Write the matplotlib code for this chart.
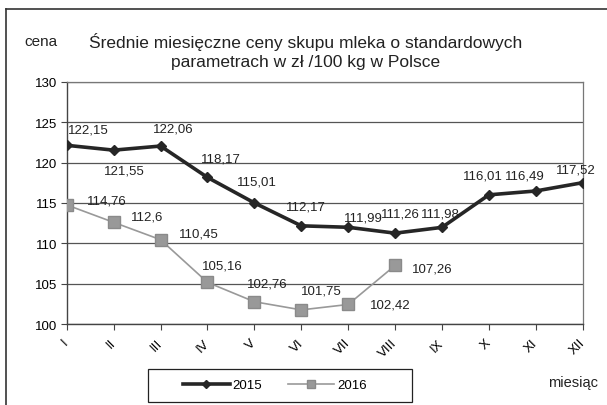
import matplotlib.pyplot as plt
from matplotlib.patches import Rectangle
from matplotlib.lines import Line2D

plt.rcParams['font.family'] = ['Liberation Sans', 'DejaVu Sans']

months = ['I', 'II', 'III', 'IV', 'V', 'VI', 'VII', 'VIII', 'IX', 'X', 'XI', 'XII']
prices_2015 = [122.15, 121.55, 122.06, 118.17, 115.01, 112.17, 111.99, 111.26, 111.98, 116.01, 116.49, 117.52]
prices_2016 = [114.76, 112.6, 110.45, 105.16, 102.76, 101.75, 102.42, 107.26]
yticks = [100, 105, 110, 115, 120, 125, 130]

# label offsets in pixels (dx, dy) relative to each point
off_2015 = [(22, 16), (11, -20), (13, 18), (13, 19), (3, 21), (5, 19),
            (15, 10), (5, 20), (-2, 14), (-6, 19), (-11, 15), (-7, 13)]
off_2016 = [(40, 4), (33, 6), (38, 6), (15, 17), (13, 18), (20, 19), (42, 0), (37, -3)]

W, H = 607, 406
fig = plt.figure(figsize=(W / 100, H / 100), dpi=100)
ax = fig.add_axes([0.110, 0.1995, 0.850, 0.5961])

x15 = list(range(len(prices_2015)))
x16 = list(range(len(prices_2016)))

ax.plot(x15, prices_2015, color='#262626', lw=2.6, marker='D', ms=5.5, label='2015', zorder=3)
ax.plot(x16, prices_2016, color='#999999', lw=1.2, marker='s', ms=8,
        mfc='#999999', mec='#8a8a8a', label='2016', zorder=3)

for x, v, (dx, dy) in zip(x15, prices_2015, off_2015):
    ax.annotate(str(v).replace('.', ','), (x, v), xytext=(dx, dy), textcoords='offset pixels',
                ha='center', va='center', fontsize=9.5, color='#222222')
for x, v, (dx, dy) in zip(x16, prices_2016, off_2016):
    ax.annotate(str(v).replace('.', ','), (x, v), xytext=(dx, dy), textcoords='offset pixels',
                ha='center', va='center', fontsize=9.5, color='#222222')

ax.set_xlim(0, len(months) - 1)
ax.set_ylim(100, 130)
ax.set_yticks(yticks)
ax.set_yticklabels([str(t) for t in yticks], fontsize=9.5)
ax.set_xticks(x15)
ax.set_xticklabels(months, rotation=45, ha='right', va='center', rotation_mode='anchor', fontsize=9.5)
ax.tick_params(axis='x', length=4, pad=8, color='#444444')
ax.tick_params(axis='y', length=4, pad=3, color='#444444')
ax.yaxis.grid(True, color='#555555', lw=0.9)
ax.set_axisbelow(True)
for side in ['top', 'right']:
    ax.spines[side].set_color('#777777')
    ax.spines[side].set_linewidth(0.9)
for side in ['left', 'bottom']:
    ax.spines[side].set_color('#444444')
    ax.spines[side].set_linewidth(1.0)

fig.text(0.503, 0.896, 'Średnie miesięczne ceny skupu mleka o standardowych',
         ha='center', va='center', fontsize=12.5, color='#222222')
fig.text(0.503, 0.845, 'parametrach w zł /100 kg w Polsce',
         ha='center', va='center', fontsize=12.5, color='#222222')
fig.text(0.068, 0.896, 'cena', ha='center', va='center', fontsize=11, color='#222222')
fig.text(573 / W, 1 - 383 / H, 'miesiąc', ha='center', va='center', fontsize=10.5, color='#222222')

# legend box drawn separately, entries placed inside it
fig.patches.append(Rectangle((148 / W, 1 - 403 / H), 264 / W, 33 / H,
                             transform=fig.transFigure, fill=False,
                             edgecolor='#222222', lw=0.9))
fig.legend(loc='center', bbox_to_anchor=(275 / W, 1 - 386 / H), ncol=2, fontsize=9.5,
           frameon=False, handlelength=3.5, handletextpad=0.2, columnspacing=2.0,
           markerscale=0.8)

# outer frame: left and top edges only
fig.lines.append(Line2D([6 / W, 6 / W], [0, 1 - 10 / H], transform=fig.transFigure,
                        color='#333333', lw=1.2))
fig.lines.append(Line2D([6 / W, 1], [1 - 10 / H, 1 - 10 / H], transform=fig.transFigure,
                        color='#333333', lw=1.2))

fig.savefig('out.png', dpi=100)
